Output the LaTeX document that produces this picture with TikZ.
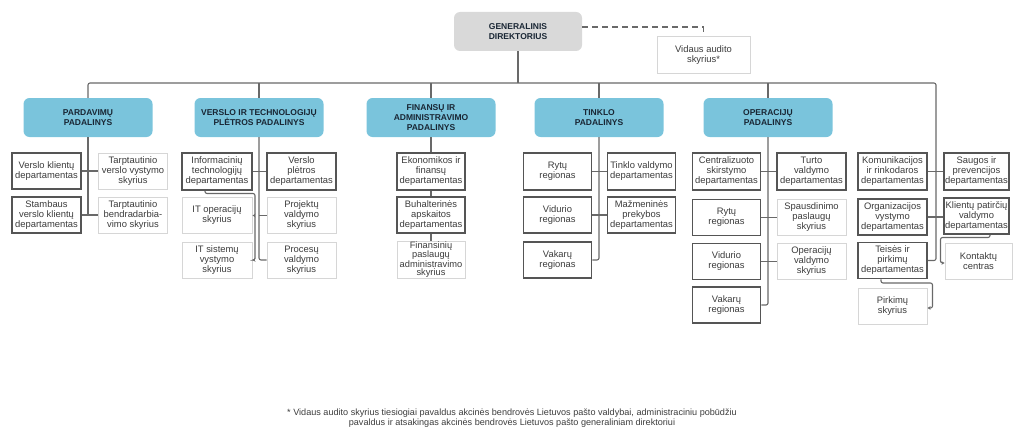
\documentclass[tikz,border=0pt]{standalone}
\usepackage{fontspec}
\setmainfont{Liberation Sans}
\usetikzlibrary{arrows.meta}
\definecolor{blueC}{RGB}{122,196,220}
\definecolor{grayC}{RGB}{217,217,217}
\definecolor{darkC}{RGB}{85,85,85}
\definecolor{lightC}{RGB}{214,214,214}
\definecolor{lineC}{RGB}{105,105,105}
\definecolor{textC}{RGB}{60,60,60}
\definecolor{headC}{RGB}{25,38,52}
\tikzset{
  x=1pt, y=-1pt,
  head/.style={rounded corners=6pt, fill=blueC, minimum width=129pt, minimum height=39pt,
    inner sep=0pt, align=center, text=headC, font=\bfseries\fontsize{8.5}{10}\selectfont},
  dbox/.style={draw=darkC, line width=1.5pt, fill=white, minimum width=69pt, minimum height=36pt,
    inner sep=0pt, align=center, text=textC, font=\fontsize{9.4}{10}\selectfont},
  lbox/.style={dbox, draw=lightC, line width=1pt},
  conn/.style={draw=lineC, line width=1.1pt, rounded corners=2pt},
  arr/.style={conn, -{Stealth[length=3pt,width=3.5pt]}},
  dashline/.style={draw=lineC, line width=1.1pt, dash pattern=on 6pt off 4pt},
}
\begin{document}
\begin{tikzpicture}
\useasboundingbox (0,0) rectangle (1024,436);
% top
\node[head, fill=grayC, minimum width=128pt] (gd) at (518,31.5) {GENERALINIS\\DIREKTORIUS};
\node[lbox, minimum width=93pt] (va) at (703.5,55) {Vidaus audito\\skyrius*};
\draw[dashline] ([yshift=4.5pt]gd.east) -| ([yshift=4pt]va.north);
% division heads
\node[head] (b1) at (88,117.5) {PARDAVIMŲ\\PADALINYS};
\node[head] (b2) at (259,117.5) {VERSLO IR TECHNOLOGIJŲ\\PLĖTROS PADALINYS};
\node[head] (b3) at (431,117.5) {FINANSŲ IR\\ADMINISTRAVIMO\\PADALINYS};
\node[head] (b4) at (599,117.5) {TINKLO\\PADALINYS};
\node[head] (b5) at (768,117.5) {OPERACIJŲ\\PADALINYS};
\coordinate (busL) at (88,83);
\coordinate (busR) at (936,83);
% column 1
\node[dbox] (p1) at (46.5,171) {Verslo klientų\\departamentas};
\node[lbox] (p2) at (133,171) {Tarptautinio\\verslo vystymo\\skyrius};
\node[dbox] (p3) at (46.5,215) {Stambaus\\verslo klientų\\departamentas};
\node[lbox] (p4) at (133,215) {Tarptautinio\\bendradarbia-\\vimo skyrius};
% column 2
\node[dbox, minimum width=70pt, minimum height=37pt] (v1) at (217,171.5) {Informacinių\\technologijų\\departamentas};
\node[dbox, minimum width=69pt, minimum height=37pt] (v2) at (301.5,171.5) {Verslo\\plėtros\\departamentas};
\node[lbox, minimum width=70pt] (v3) at (217,215.5) {IT operacijų\\skyrius};
\node[lbox] (v4) at (301.5,215.5) {Projektų\\valdymo\\skyrius};
\node[lbox, minimum width=70pt] (v5) at (217,260) {IT sistemų\\vystymo\\skyrius};
\node[lbox] (v6) at (301.5,260) {Procesų\\valdymo\\skyrius};
% column 3
\node[dbox, minimum width=68pt, minimum height=37pt] (f1) at (431,171.5) {Ekonomikos ir\\finansų\\departamentas};
\node[dbox, minimum width=68pt] (f2) at (431,215) {Buhalterinės\\apskaitos\\departamentas};
\node[lbox, minimum width=68pt, minimum height=37pt, font=\fontsize{9.3}{7.9}\selectfont] (f3) at (431,259.5) {Finansinių\\paslaugų\\administravimo\\skyrius};
% column 4
\node[dbox, minimum width=68pt, minimum height=37pt] (t1) at (557.5,171.5) {Rytų\\regionas};
\node[dbox, minimum width=68pt, minimum height=37pt] (t2) at (641.5,171.5) {Tinklo valdymo\\departamentas};
\node[dbox, minimum width=68pt] (t3) at (557.5,215) {Vidurio\\regionas};
\node[dbox, minimum width=68pt] (t4) at (641.5,215) {Mažmeninės\\prekybos\\departamentas};
\node[dbox, minimum width=68pt] (t5) at (557.5,260) {Vakarų\\regionas};
% column 5
\node[dbox, minimum width=68pt, minimum height=37pt] (o1) at (726.5,171.5) {Centralizuoto\\skirstymo\\departamentas};
\node[dbox, minimum height=37pt] (o2) at (811.5,171.5) {Turto\\valdymo\\departamentas};
\node[dbox, minimum width=68pt] (o3) at (726.5,217.5) {Rytų\\regionas};
\node[lbox] (o4) at (811.5,217.5) {Spausdinimo\\paslaugų\\skyrius};
\node[dbox, minimum width=68pt] (o5) at (726.5,261.5) {Vidurio\\regionas};
\node[lbox] (o6) at (811.5,261.5) {Operacijų\\valdymo\\skyrius};
\node[dbox, minimum width=68pt] (o7) at (726.5,305) {Vakarų\\regionas};
% column 6
\node[dbox, minimum height=37pt] (r1) at (892.5,171.5) {Komunikacijos\\ir rinkodaros\\departamentas};
\node[dbox, minimum width=65pt, minimum height=37pt] (r2) at (976.5,171.5) {Saugos ir\\prevencijos\\departamentas};
\node[dbox] (r3) at (892.5,217) {Organizacijos\\vystymo\\departamentas};
\node[dbox, minimum width=65pt] (r4) at (976.5,216) {Klientų patirčių\\valdymo\\departamentas};
\node[dbox] (r5) at (892.5,260.5) {Teisės ir\\pirkimų\\departamentas};
\node[lbox, minimum width=67pt] (r6) at (978.5,261) {Kontaktų\\centras};
\node[lbox] (r7) at (892.5,306) {Pirkimų\\skyrius};
% bus
\draw[conn] (gd.south) -- (gd.south |- busL);
\draw[conn] (b1.north) -- (busL) -- (busR) |- (r5.east);
\foreach \n in {b2,b3,b4,b5} \draw[conn] (\n.north) -- (\n.north |- busL);
% column 1 connectors
\draw[conn] (b1.south) -- (b1.south |- p3.east);
\draw[conn] (p1.east) -- (p2.west);
\draw[conn] (p3.east) -- (p4.west);
% column 2 connectors
\draw[conn] (b2.south) |- (v6.west);
\draw[conn] (v1.east) -- (v2.west);
\draw[conn] (b2.south |- v4.west) -- (v4.west);
\coordinate (itk) at (255,193.5);
\draw[arr] ([xshift=-12pt]v1.south) |- (itk) |- (v5.east);
\draw[arr] (itk |- v3.east) -- (v3.east);
% column 3 connectors
\draw[conn] (b3.south) -- (f1.north);
\draw[conn] (f1.south) -- (f2.north);
\draw[conn] (f2.south) -- (f3.north);
% column 4 connectors
\draw[conn] (b4.south) |- (t5.east);
\draw[conn] (t1.east) -- (t2.west);
\draw[conn] (t3.east) -- (t4.west);
% column 5 connectors
\draw[conn] (b5.south) |- (o7.east);
\draw[conn] (o1.east) -- (o2.west);
\draw[conn] (o3.east) -- (o4.west);
\draw[conn] (o5.east) -- (o6.west);
% column 6 connectors
\draw[conn] (r1.east) -- (r2.west);
\draw[conn] (r3.east) -- (r3.east -| r4.west);
\coordinate (kk) at (940.5,237.5);
\draw[arr] ([xshift=13.5pt]r4.south) |- (kk) |- ([yshift=-2pt]r6.west);
\coordinate (tp) at (932.5,283);
\draw[arr] ([xshift=-11.5pt]r5.south) |- (tp) |- ([yshift=-2pt]r7.east);
% footnote
\node[align=center, text=textC, font=\fontsize{9.1}{10.5}\selectfont] (fn) at (512,418)
  {* Vidaus audito skyrius tiesiogiai pavaldus akcinės bendrovės Lietuvos pašto valdybai, administraciniu pobūdžiu\\
   pavaldus ir atsakingas akcinės bendrovės Lietuvos pašto generaliniam direktoriui};
\end{tikzpicture}
\end{document}
